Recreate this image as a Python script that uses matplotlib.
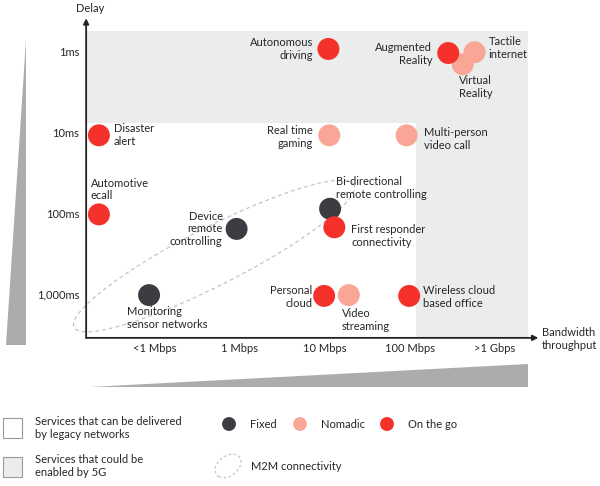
import numpy as np
import matplotlib
matplotlib.use("Agg")
import matplotlib.pyplot as plt
from matplotlib.patches import Polygon, Rectangle, Ellipse

plt.rcParams['font.family'] = ['Lato', 'DejaVu Sans']

# --- data -------------------------------------------------------------
# x: bandwidth class index (0 = <1 Mbps ... 4 = >1 Gbps)
# y: log10 of delay in ms (0 = 1ms ... 3 = 1,000ms)
x_ticks = [0, 1, 2, 3, 4]
x_labels = ['<1 Mbps', '1 Mbps', '10 Mbps', '100 Mbps', '>1 Gbps']
y_ticks = [0, 1, 2, 3]
y_labels = ['1ms', '10ms', '100ms', '1,000ms']

services = ['Autonomous\ndriving', 'Augmented\nReality', 'Tactile\ninternet',
            'Virtual\nReality', 'Disaster\nalert', 'Real time\ngaming',
            'Multi-person\nvideo call', 'Automotive\necall',
            'Device\nremote\ncontrolling', 'Bi-directional\nremote controlling',
            'First responder\nconnectivity', 'Monitoring\nsensor networks',
            'Personal\ncloud', 'Video\nstreaming', 'Wireless cloud\nbased office']
bandwidth = [2.04, 3.45, 3.76, 3.62, -0.66, 2.05, 2.96, -0.66, 0.96, 2.06,
             2.11, -0.07, 1.99, 2.28, 2.99]
delay = [-0.05, 0.0, -0.01, 0.14, 1.02, 1.02, 1.02, 2.0, 2.18, 1.93,
         2.16, 3.0, 3.01, 3.0, 3.01]
mobility = ['go', 'go', 'nomadic', 'nomadic', 'go', 'nomadic', 'nomadic', 'go',
            'fixed', 'fixed', 'go', 'fixed', 'go', 'nomadic', 'go']

# label placement (pixel offset from dot, alignment)
label_pos = [(-15, 0, 'right'), (-16, 1, 'right'), (14, -4, 'left'),
             (-4, 23, 'left'), (15, 0, 'left'), (-16, 2, 'right'),
             (17, 4, 'left'), (-8, -25, 'left'), (-14, 0, 'right'),
             (6, -21, 'left'), (17, 9, 'left'), (-22, 23, 'left'),
             (-12, 1, 'right'), (-7, 25, 'left'), (14, 1, 'left')]

colors = {'fixed': '#3b3d42', 'nomadic': '#f9a697', 'go': '#f4312b'}
legend_names = {'fixed': 'Fixed', 'nomadic': 'Nomadic', 'go': 'On the go'}
text_col = '#262626'
gray_5g = '#ebecec'
wedge_col = '#abacae'
fs = 8

W, H = 600, 486
fig = plt.figure(figsize=(W / 100, H / 100), dpi=100)
ax = fig.add_axes([0, 0, 1, 1])
ax.axis('off')
# 1 x-unit = 85 px (tick 0 at px 155), 1 y-unit = 80.7 px (tick 0 at px 53)
ax.set_xlim(-155 / 85, (W - 155) / 85)
ax.set_ylim((H - 53) / 80.7, -53 / 80.7)


def pix(px, py):
    return px / W, 1 - py / H


x0, y0 = -0.81, 3.53      # axes origin
x_end, y_top = 4.39, -0.27
x_5g, y_5g = 3.07, 0.87

# 5G region
ax.add_patch(Polygon([(x0, y_top), (x_end, y_top), (x_end, y0), (x_5g, y0),
                      (x_5g, y_5g), (x0, y_5g)], closed=True,
                     facecolor=gray_5g, edgecolor='none', zorder=0))

# axes with arrows
ax.annotate('', xy=(x0, -0.43), xytext=(x0, y0),
            arrowprops=dict(arrowstyle='-|>', color='#222222', lw=1.3,
                            mutation_scale=8, shrinkA=0, shrinkB=0), zorder=3)
ax.annotate('', xy=(4.51, y0), xytext=(x0, y0),
            arrowprops=dict(arrowstyle='-|>', color='#222222', lw=1.3,
                            mutation_scale=8, shrinkA=0, shrinkB=0), zorder=3)
ax.text(*pix(90, 8), 'Delay', transform=ax.transAxes, ha='center',
        va='center', fontsize=fs, color=text_col)
ax.text(*pix(542, 339), 'Bandwidth\nthroughput', transform=ax.transAxes,
        ha='left', va='center', fontsize=fs, color=text_col, linespacing=1.2)

for t, lab in zip(x_ticks, x_labels):
    ax.text(t, 3.66, lab, ha='center', va='center', fontsize=fs,
            color=text_col)
for t, lab in zip(y_ticks, y_labels):
    ax.text(-0.89, t, lab, ha='right', va='center', fontsize=fs,
            color=text_col)

# M2M ellipse (drawn in pixel space so its tilt is kept)
tt = np.linspace(0, 2 * np.pi, 200)
a, b, ang = 157, 29, np.deg2rad(27)
ex = 214 + a * np.cos(tt) * np.cos(ang) - b * np.sin(tt) * np.sin(ang)
ey = 256 - a * np.cos(tt) * np.sin(ang) - b * np.sin(tt) * np.cos(ang)
ax.plot((ex - 155) / 85, (ey - 53) / 80.7, ls=(0, (3, 2.5)), lw=0.9,
        color='#c4c4c4', zorder=1)

# dots, nomadic first so red sits on top
order = ['nomadic', 'fixed', 'go']
for kind in order:
    idx = [i for i, m in enumerate(mobility) if m == kind]
    ax.scatter([bandwidth[i] for i in idx], [delay[i] for i in idx],
               s=250, color=colors[kind], edgecolors='none', zorder=4)

for i, name in enumerate(services):
    dx, dy, ha = label_pos[i]
    ax.annotate(name, (bandwidth[i], delay[i]), xytext=(dx, -dy),
                textcoords='offset pixels', ha=ha, va='center',
                fontsize=fs, color=text_col, linespacing=1.2, zorder=5)

# side wedges
ax.add_patch(Polygon([pix(26, 40), pix(26, 345), pix(6, 345)],
                     closed=True, transform=ax.transAxes,
                     facecolor=wedge_col, edgecolor='none'))
ax.add_patch(Polygon([pix(90, 387), pix(528, 364), pix(528, 387)],
                     closed=True, transform=ax.transAxes,
                     facecolor=wedge_col, edgecolor='none'))

# legend
ax.add_patch(Rectangle(pix(3, 438), 19 / W, 20 / H, transform=ax.transAxes,
                       facecolor='white', edgecolor='#9a9a9a', lw=0.8))
ax.add_patch(Rectangle(pix(3, 477), 19 / W, 20 / H, transform=ax.transAxes,
                       facecolor=gray_5g, edgecolor='#9a9a9a', lw=0.8))
ax.text(*pix(35, 428), 'Services that can be delivered\nby legacy networks',
        transform=ax.transAxes, ha='left', va='center', fontsize=fs,
        color=text_col, linespacing=1.2)
ax.text(*pix(35, 466), 'Services that could be\nenabled by 5G',
        transform=ax.transAxes, ha='left', va='center', fontsize=fs,
        color=text_col, linespacing=1.2)

for kind, px in zip(['fixed', 'nomadic', 'go'], [229, 300, 387]):
    ax.scatter(*pix(px, 424), s=100, color=colors[kind], edgecolors='none',
               transform=ax.transAxes)
    ax.text(*pix(px + 21, 424), legend_names[kind], transform=ax.transAxes,
            ha='left', va='center', fontsize=fs, color=text_col)

ax.add_patch(Ellipse(pix(228, 466), 22 / W, 26 / H, angle=-35,
                     transform=ax.transAxes, facecolor='none',
                     edgecolor='#c4c4c4', ls=(0, (2, 2)), lw=0.9))
ax.text(*pix(251, 466), 'M2M connectivity', transform=ax.transAxes,
        ha='left', va='center', fontsize=fs, color=text_col)

fig.savefig('out.png', dpi=100)
